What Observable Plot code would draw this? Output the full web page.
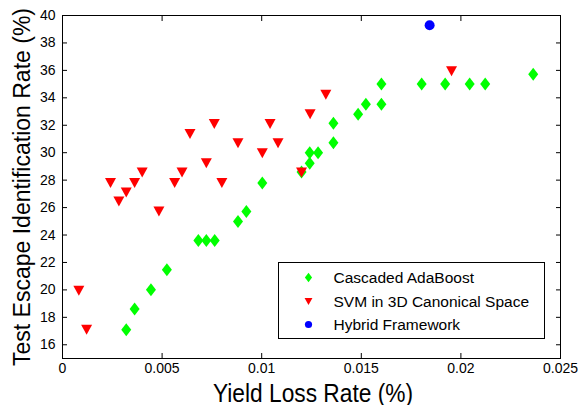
<!DOCTYPE html>
<html><head><meta charset="utf-8">
<script src="https://cdn.jsdelivr.net/npm/d3@7"></script>
<script src="https://cdn.jsdelivr.net/npm/@observablehq/plot@0.6"></script>
<style>
body{margin:0;background:#fff}
svg{font-family:"Liberation Sans",Arial,Helvetica,sans-serif}
</style>
</head><body><div id="chart"></div>
<script>
// Cascaded AdaBoost
const adaX = [0.0032,0.00362,0.00444,0.00524,0.00682,0.00722,0.00764,0.00881,0.00923,0.01003,0.0120,0.01241,0.01241,0.01283,0.0136,0.0136,0.01484,0.01523,0.01601,0.01601,0.01803,0.01921,0.02044,0.02122,0.02363];
const adaY = [17.1,18.61,20.01,21.47,23.6,23.6,23.6,24.98,25.71,27.8,28.6,29.23,30.0,30.0,30.73,32.14,32.81,33.54,33.54,35.0,35.0,35.0,35.0,35.0,35.72];
// SVM in 3D Canonical Space
const svmX = [0.00082,0.00121,0.00241,0.00283,0.0032,0.00362,0.0040,0.00484,0.00563,0.0060,0.0064,0.00722,0.00762,0.0080,0.00881,0.01003,0.01042,0.01082,0.0120,0.01243,0.01322,0.01953];
const svmY = [19.94,17.1,27.8,26.44,27.1,27.8,28.55,25.71,27.8,28.55,31.36,29.23,32.09,27.8,30.68,29.96,32.09,30.68,28.55,32.81,34.22,35.94];
// Hybrid Framework
const hybX = [0.01843];
const hybY = [39.29];

const seriesNames = ["Cascaded AdaBoost","SVM in 3D Canonical Space","Hybrid Framework"];
const xTicks = [0,0.005,0.01,0.015,0.02,0.025];
const xTickLabels = ["0","0.005","0.01","0.015","0.02","0.025"];
const yTicks = [16,18,20,22,24,26,28,30,32,34,36,38,40];
const xLabel = "Yield Loss Rate (%)";
const yLabel = "Test Escape Identification Rate (%)";

const toRows = (xs, ys) => xs.map((x, i) => ({x, y: ys[i]}));
const ada = toRows(adaX, adaY), svm = toRows(svmX, svmY), hyb = toRows(hybX, hybY);

function diamondSym(s){return {draw(c){c.moveTo(0,-6.5*s);c.lineTo(5*s,0);c.lineTo(0,6.5*s);c.lineTo(-5*s,0);c.closePath();}};}
function triSym(s){return {draw(c){c.moveTo(-5.5*s,-5*s);c.lineTo(5.5*s,-5*s);c.lineTo(0,5*s);c.closePath();}};}
function circSym(s){return {draw(c){c.moveTo(5*s,0);c.arc(0,0,5*s,0,2*Math.PI);c.closePath();}};}
const colors = ["#00ff00","#ff0000","#0000ff"];

const fmtX = d => xTickLabels[xTicks.indexOf(d)];

const chart = Plot.plot({
  width: 581, height: 405,
  marginLeft: 62, marginRight: 21, marginTop: 15, marginBottom: 47,
  style: {fontSize: "14px", fontFamily: '"Liberation Sans",Arial,sans-serif', color: "#000", background: "#fff"},
  x: {domain: [0, 0.025]},
  y: {domain: [15, 40]},
  marks: [
    Plot.frame({stroke: "#000", strokeWidth: 1}),
    Plot.axisX(xTicks, {anchor: "bottom", tickSize: -5, tickPadding: 10, tickFormat: fmtX, label: null, fontSize: 14}),
    Plot.axisX(xTicks, {anchor: "top", tickSize: -5, tickFormat: () => "", label: null}),
    Plot.axisY(yTicks, {anchor: "left", tickSize: -5, tickPadding: 12, tickFormat: d => String(d), label: null, fontSize: 14}),
    Plot.axisY(yTicks, {anchor: "right", tickSize: -5, tickFormat: () => "", label: null}),
    Plot.dot(ada, {x: "x", y: "y", symbol: diamondSym(1), r: 5, fill: colors[0], stroke: "none"}),
    Plot.dot(svm, {x: "x", y: "y", symbol: triSym(1), r: 5, fill: colors[1], stroke: "none"}),
    Plot.dot(hyb, {x: "x", y: "y", symbol: circSym(1), r: 5, fill: colors[2], stroke: "none"})
  ]
});
document.getElementById("chart").appendChild(chart);

const svg = d3.select(chart);
// axis titles
svg.append("text").attr("x", 313).attr("y", 401.5).attr("text-anchor", "middle")
  .attr("font-size", 25).attr("fill", "#000")
  .attr("textLength", 200).attr("lengthAdjust", "spacingAndGlyphs").text(xLabel);
svg.append("text").attr("transform", "translate(30,187) rotate(-90)").attr("text-anchor", "middle")
  .attr("font-size", 23).attr("fill", "#000")
  .attr("textLength", 358).attr("lengthAdjust", "spacingAndGlyphs").text(yLabel);

// legend
const lg = svg.append("g");
lg.append("rect").attr("x", 278.5).attr("y", 262.5).attr("width", 266).attr("height", 76)
  .attr("fill", "#fff").attr("stroke", "#000").attr("stroke-width", 1);
const syms = [diamondSym(0.72), triSym(0.72), circSym(0.72)];
const rowsY = [277.5, 301.5, 324.5];
seriesNames.forEach((name, i) => {
  lg.append("path").attr("d", d3.symbol(syms[i])()).attr("transform", `translate(308.5,${rowsY[i]})`).attr("fill", colors[i]);
  lg.append("text").attr("x", 333.5).attr("y", rowsY[i]).attr("dy", "0.36em").attr("text-anchor", "start")
    .attr("font-size", 15.5).attr("fill", "#000").text(name);
});
</script>
</body></html>
